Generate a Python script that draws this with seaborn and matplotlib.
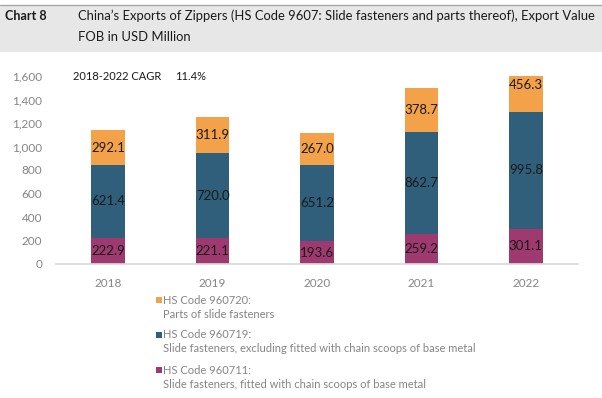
import numpy as np
import pandas as pd
import matplotlib.pyplot as plt
import seaborn as sns
from matplotlib.patches import Rectangle

years = ["2018", "2019", "2020", "2021", "2022"]
hs960711 = [222.9, 221.1, 193.6, 259.2, 301.1]
hs960719 = [621.4, 720.0, 651.2, 862.7, 995.8]
hs960720 = [292.1, 311.9, 267.0, 378.7, 456.3]
yticks = [0, 200, 400, 600, 800, 1000, 1200, 1400, 1600]

c_orange = "#F4A24A"
c_blue = "#2F5F7B"
c_mag = "#9E3A70"
grey = "#858585"

sns.set_theme(style="white")
plt.rcParams["font.family"] = ["Lato", "DejaVu Sans"]

df = pd.DataFrame({"year": years, "a": hs960711, "b": hs960719, "c": hs960720})
df["ab"] = df["a"] + df["b"]
df["abc"] = df["ab"] + df["c"]

fig = plt.figure(figsize=(6.02, 3.98), dpi=100)

# header band
fig.patches.append(Rectangle((0, 1 - 52 / 398), 1, 47 / 398, transform=fig.transFigure,
                             facecolor="#E7E7E7", edgecolor="none", zorder=0))
fig.lines.append(plt.Line2D([0, 1], [1 - 5 / 398] * 2, transform=fig.transFigure,
                            color="#A6A6A6", lw=1))
fig.text(5 / 602, 1 - 16 / 398, "Chart 8", fontsize=9, fontweight="bold", va="center", color="#1A1A1A")
fig.text(78 / 602, 1 - 16 / 398,
         "China\u2019s Exports of Zippers (HS Code 9607: Slide fasteners and parts thereof), Export Value",
         fontsize=9.4, va="center", color="#1A1A1A")
fig.text(78 / 602, 1 - 37 / 398, "FOB in USD Million", fontsize=9.4, va="center", color="#1A1A1A")

ax = fig.add_axes([56 / 602, 1 - 264 / 398, 522 / 602, 188 / 398])
for col, ycol in [(c_orange, "abc"), (c_blue, "ab"), (c_mag, "a")]:
    sns.barplot(data=df, x="year", y=ycol, color=col, width=0.32, saturation=1,
                linewidth=0, ax=ax)

for i in range(len(years)):
    ax.text(i, df["a"][i] / 2, f"{df['a'][i]:.1f}", ha="center", va="center", fontsize=9.5, color="#1A1A1A")
    ax.text(i, df["a"][i] + df["b"][i] / 2, f"{df['b'][i]:.1f}", ha="center", va="center", fontsize=9.5, color="#1A1A1A")
    ax.text(i, df["ab"][i] + df["c"][i] / 2, f"{df['c'][i]:.1f}", ha="center", va="center", fontsize=9.5, color="#1A1A1A")

ax.set_xlim(-0.5, 4.5)
ax.set_ylim(0, 1600)
ax.set_yticks(yticks)
ax.set_yticklabels([f"{v:,}" for v in yticks])
ax.set_xlabel("")
ax.set_ylabel("")
sns.despine(ax=ax, left=True, top=True, right=True)
ax.spines["bottom"].set_color("#D9D9D9")
ax.tick_params(axis="both", length=0, labelsize=8.5, labelcolor=grey)
ax.tick_params(axis="y", pad=10)
ax.tick_params(axis="x", pad=10)

ax.text(73 / 602, 1 - 76 / 398, "2018-2022 CAGR", transform=fig.transFigure, fontsize=8, va="center", color="#1A1A1A")
ax.text(175 / 602, 1 - 76 / 398, "11.4%", transform=fig.transFigure, fontsize=8, va="center", color="#1A1A1A")

# legend
legend_items = [
    (c_orange, "HS Code 960720:", "Parts of slide fasteners", 300),
    (c_blue, "HS Code 960719:", "Slide fasteners, excluding fitted with chain scoops of base metal", 335),
    (c_mag, "HS Code 960711:", "Slide fasteners, fitted with chain scoops of base metal", 370),
]
for col, l1, l2, yy in legend_items:
    fig.patches.append(Rectangle((156 / 602, 1 - (yy + 3) / 398), 6 / 602, 6 / 398,
                                 transform=fig.transFigure, facecolor=col, edgecolor="none"))
    fig.text(163 / 602, 1 - yy / 398, l1, fontsize=8, va="center", color=grey)
    fig.text(163 / 602, 1 - (yy + 14) / 398, l2, fontsize=8, va="center", color=grey)

fig.savefig("out.png", dpi=100)
